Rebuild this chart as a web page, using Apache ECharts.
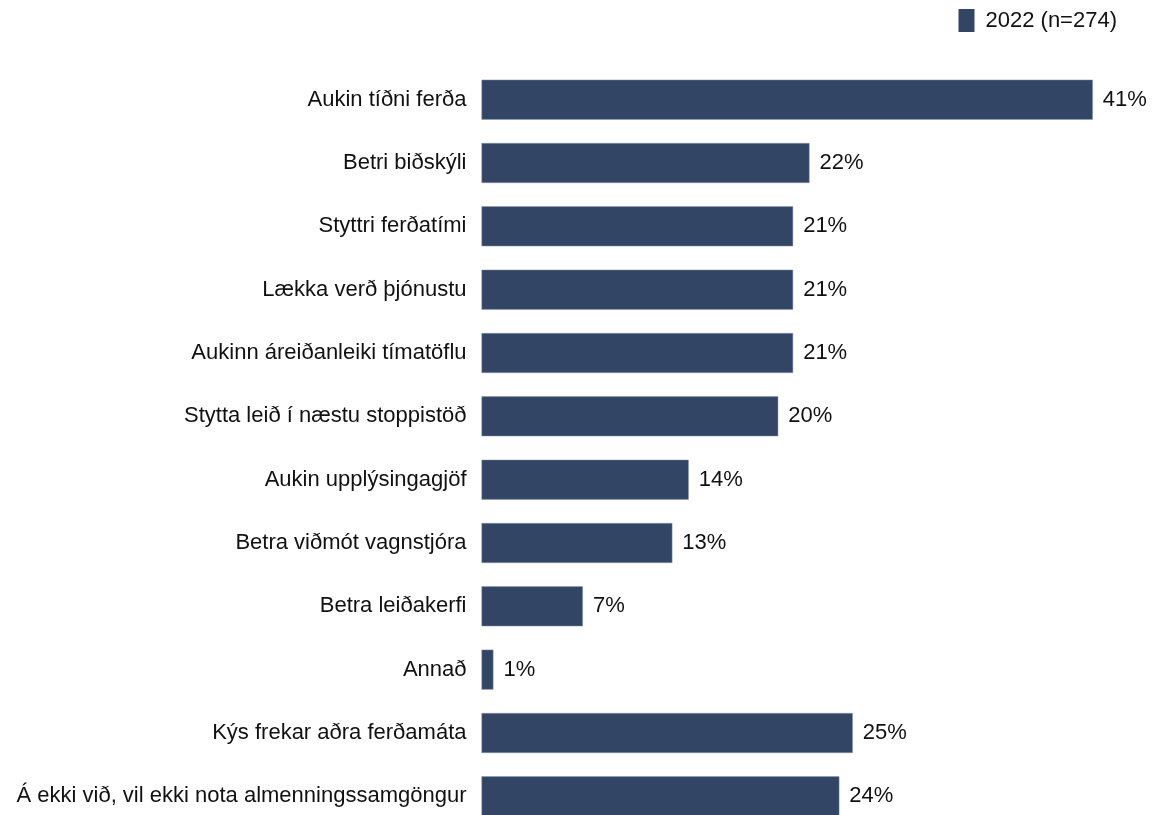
<!DOCTYPE html>
<html>
<head>
<meta charset="utf-8">
<script src="https://cdn.jsdelivr.net/npm/echarts@6/dist/echarts.min.js"></script>
<style>
  html, body { margin: 0; padding: 0; background: #fff; }
  #chart { width: 1152px; height: 815px; }
</style>
</head>
<body>
<div id="chart"></div>
<script>
var categories = [
  "Aukin tíðni ferða",
  "Betri biðskýli",
  "Styttri ferðatími",
  "Lækka verð þjónustu",
  "Aukinn áreiðanleiki tímatöflu",
  "Stytta leið í næstu stoppistöð",
  "Aukin upplýsingagjöf",
  "Betra viðmót vagnstjóra",
  "Betra leiðakerfi",
  "Annað",
  "Kýs frekar aðra ferðamáta",
  "Á ekki við, vil ekki nota almenningssamgöngur"
];
var values2022 = [41, 22, 20.9, 20.9, 20.9, 19.9, 13.9, 12.8, 6.8, 0.8, 24.9, 24];
var labels2022 = ["41%", "22%", "21%", "21%", "21%", "20%", "14%", "13%", "7%", "1%", "25%", "24%"];
var seriesName = "2022 (n=274)";

var chart = echarts.init(document.getElementById("chart"));
chart.setOption({
  animation: false,
  legend: {
    data: [seriesName],
    right: 30,
    top: 4,
    itemWidth: 16,
    itemHeight: 23,
    icon: "rect",
    itemStyle: { borderWidth: 0 },
    textStyle: {
      fontFamily: "Liberation Sans",
      fontSize: 22,
      color: "#111",
      padding: [0, 0, 0, 6]
    }
  },
  grid: {
    left: 481.5,
    width: 671,
    top: 68,
    height: 760,
    outerBoundsMode: "none",
    containLabel: false
  },
  xAxis: {
    type: "value",
    min: 0,
    max: 45,
    show: false
  },
  yAxis: {
    type: "category",
    inverse: true,
    data: categories,
    axisLine: { show: false },
    axisTick: { show: false },
    axisLabel: {
      margin: 15,
      fontFamily: "Liberation Sans",
      fontSize: 22,
      color: "#111"
    }
  },
  series: [
    {
      name: seriesName,
      type: "bar",
      barWidth: 40,
      data: values2022,
      itemStyle: { color: "#324565", borderColor: "#8e9bb0", borderWidth: 0.5 },
      label: {
        show: true,
        position: "right",
        distance: 10,
        fontFamily: "Liberation Sans",
        fontSize: 22,
        color: "#111",
        formatter: function (p) { return labels2022[p.dataIndex]; }
      }
    }
  ]
});
</script>
</body>
</html>
